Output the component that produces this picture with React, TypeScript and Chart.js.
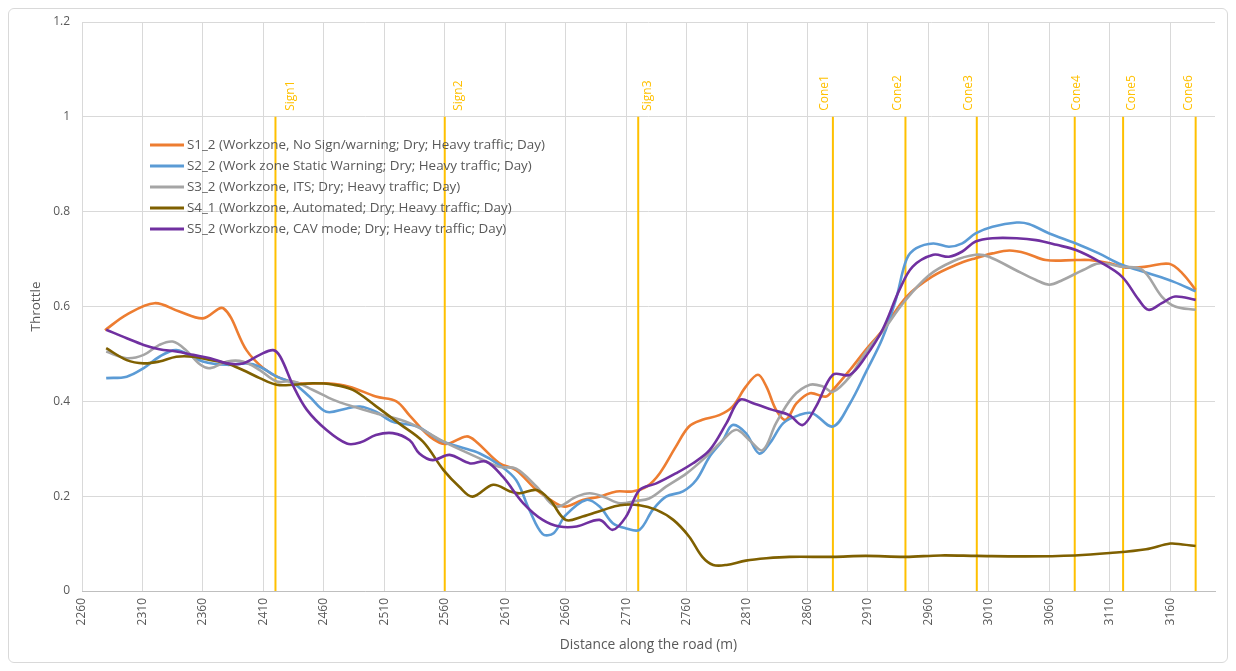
import React, { useEffect, useRef } from "react";
import { Chart, registerables } from "chart.js";

Chart.register(...registerables);

// ---------- data ----------
const distanceTicks = [2260, 2310, 2360, 2410, 2460, 2510, 2560, 2610, 2660, 2710, 2760, 2810, 2860, 2910, 2960, 3010, 3060, 3110, 3160];

const seriesNames = [
  "S1_2 (Workzone, No Sign/warning; Dry; Heavy traffic; Day)",
  "S2_2 (Work zone Static Warning; Dry; Heavy traffic; Day)",
  "S3_2 (Workzone, ITS; Dry; Heavy traffic; Day)",
  "S4_1 (Workzone, Automated; Dry; Heavy traffic; Day)",
  "S5_2 (Workzone, CAV mode; Dry; Heavy traffic; Day)",
];

const s1Dist = [2279, 2297, 2320, 2340, 2360, 2377, 2396, 2410, 2424, 2440, 2462, 2481, 2503, 2520, 2531, 2548, 2561, 2578, 2586, 2605, 2619, 2636, 2652, 2660, 2674, 2688, 2702, 2715, 2727, 2738, 2751, 2762, 2773, 2787, 2798, 2809, 2819, 2826, 2834, 2842, 2851, 2862, 2875, 2881, 2895, 2908, 2922, 2942, 2963, 2983, 2999, 3013, 3027, 3041, 3057, 3082, 3093, 3110, 3123, 3140, 3159, 3170, 3181];
const s1Throttle = [0.55, 0.583, 0.607, 0.59, 0.575, 0.596, 0.508, 0.47, 0.449, 0.438, 0.438, 0.431, 0.41, 0.40, 0.37, 0.325, 0.31, 0.326, 0.315, 0.27, 0.255, 0.213, 0.185, 0.178, 0.192, 0.199, 0.21, 0.21, 0.22, 0.249, 0.304, 0.347, 0.361, 0.371, 0.389, 0.431, 0.456, 0.431, 0.382, 0.361, 0.396, 0.417, 0.41, 0.424, 0.466, 0.508, 0.55, 0.621, 0.663, 0.688, 0.702, 0.712, 0.718, 0.712, 0.698, 0.698, 0.698, 0.691, 0.682, 0.684, 0.69, 0.67, 0.635];

const s2Dist = [2280, 2297, 2311, 2324, 2338, 2360, 2380, 2396, 2407, 2421, 2435, 2448, 2462, 2479, 2490, 2503, 2517, 2537, 2556, 2572, 2589, 2605, 2619, 2630, 2641, 2650, 2660, 2677, 2688, 2699, 2710, 2721, 2732, 2743, 2757, 2768, 2779, 2790, 2798, 2809, 2820, 2829, 2840, 2853, 2864, 2881, 2895, 2908, 2922, 2933, 2942, 2950, 2964, 2977, 2988, 2999, 3013, 3033, 3043, 3060, 3082, 3101, 3120, 3142, 3163, 3181];
const s2Throttle = [0.449, 0.452, 0.47, 0.494, 0.508, 0.484, 0.477, 0.48, 0.473, 0.452, 0.438, 0.41, 0.378, 0.385, 0.389, 0.378, 0.357, 0.347, 0.318, 0.304, 0.29, 0.266, 0.234, 0.171, 0.12, 0.122, 0.16, 0.192, 0.178, 0.143, 0.132, 0.129, 0.171, 0.199, 0.21, 0.234, 0.283, 0.318, 0.35, 0.333, 0.29, 0.312, 0.354, 0.371, 0.375, 0.347, 0.395, 0.46, 0.533, 0.614, 0.70, 0.723, 0.733, 0.726, 0.733, 0.754, 0.768, 0.777, 0.774, 0.754, 0.733, 0.712, 0.688, 0.67, 0.652, 0.632];

const s3Dist = [2280, 2297, 2311, 2324, 2335, 2346, 2358, 2366, 2380, 2393, 2407, 2421, 2435, 2451, 2468, 2484, 2503, 2531, 2559, 2586, 2605, 2619, 2636, 2652, 2669, 2680, 2691, 2705, 2718, 2729, 2743, 2760, 2776, 2790, 2801, 2812, 2823, 2834, 2848, 2862, 2873, 2881, 2895, 2908, 2922, 2940, 2960, 2980, 2999, 3010, 3032, 3049, 3060, 3071, 3088, 3101, 3120, 3137, 3153, 3164, 3181];
const s3Throttle = [0.505, 0.491, 0.498, 0.519, 0.526, 0.508, 0.477, 0.47, 0.484, 0.484, 0.466, 0.442, 0.442, 0.424, 0.403, 0.389, 0.375, 0.354, 0.315, 0.283, 0.262, 0.258, 0.22, 0.178, 0.199, 0.206, 0.199, 0.185, 0.19, 0.195, 0.22, 0.248, 0.283, 0.318, 0.34, 0.318, 0.297, 0.354, 0.41, 0.435, 0.431, 0.42, 0.452, 0.503, 0.547, 0.61, 0.665, 0.695, 0.709, 0.705, 0.677, 0.656, 0.646, 0.656, 0.677, 0.691, 0.684, 0.677, 0.621, 0.60, 0.593];

const s4Dist = [2280, 2297, 2311, 2324, 2338, 2352, 2366, 2380, 2393, 2407, 2421, 2435, 2451, 2468, 2484, 2503, 2523, 2542, 2559, 2572, 2583, 2600, 2614, 2622, 2636, 2647, 2660, 2674, 2691, 2705, 2721, 2735, 2749, 2762, 2773, 2782, 2793, 2809, 2826, 2845, 2881, 2908, 2941, 2970, 3000, 3040, 3081, 3110, 3140, 3160, 3170, 3181];
const s4Throttle = [0.512, 0.487, 0.48, 0.484, 0.494, 0.494, 0.487, 0.48, 0.466, 0.449, 0.435, 0.435, 0.438, 0.435, 0.424, 0.39, 0.352, 0.315, 0.255, 0.22, 0.199, 0.224, 0.21, 0.206, 0.213, 0.192, 0.15, 0.157, 0.171, 0.181, 0.181, 0.171, 0.15, 0.115, 0.072, 0.055, 0.055, 0.064, 0.069, 0.072, 0.072, 0.074, 0.072, 0.075, 0.074, 0.073, 0.075, 0.08, 0.088, 0.1, 0.098, 0.095];

const s5Dist = [2280, 2297, 2311, 2324, 2338, 2352, 2366, 2380, 2393, 2407, 2418, 2424, 2435, 2446, 2462, 2479, 2490, 2503, 2517, 2531, 2539, 2550, 2564, 2581, 2594, 2608, 2625, 2641, 2655, 2669, 2688, 2699, 2710, 2721, 2735, 2751, 2765, 2779, 2793, 2804, 2815, 2831, 2845, 2856, 2867, 2881, 2895, 2908, 2922, 2936, 2947, 2964, 2977, 2988, 2999, 3013, 3033, 3049, 3066, 3082, 3101, 3120, 3134, 3142, 3153, 3164, 3181];
const s5Throttle = [0.551, 0.533, 0.519, 0.51, 0.505, 0.498, 0.491, 0.48, 0.48, 0.498, 0.508, 0.494, 0.431, 0.382, 0.34, 0.311, 0.313, 0.329, 0.333, 0.318, 0.29, 0.276, 0.287, 0.269, 0.273, 0.241, 0.185, 0.15, 0.136, 0.136, 0.15, 0.129, 0.157, 0.213, 0.227, 0.248, 0.269, 0.297, 0.354, 0.403, 0.396, 0.382, 0.371, 0.35, 0.389, 0.456, 0.456, 0.494, 0.551, 0.635, 0.684, 0.709, 0.705, 0.716, 0.737, 0.744, 0.744, 0.74, 0.73, 0.719, 0.695, 0.663, 0.614, 0.593, 0.607, 0.621, 0.614];

const markerDist = [2420, 2560, 2720, 2881, 2941, 3000, 3081, 3121, 3181];
const markerNames = ["Sign1", "Sign2", "Sign3", "Cone1", "Cone2", "Cone3", "Cone4", "Cone5", "Cone6"];
const markerRange = [0, 1];

// ---------- styles ----------
const seriesColors = ["#ED7D31", "#5B9BD5", "#A5A5A5", "#7F6000", "#7030A0"];
const markerColor = "#FFC000";
const markerLabelOffsets = [15, 14, 9, -8, -8, -8, 2, 8, -7];
const textColor = "#595959";
const FONT = "'Open Sans', 'Liberation Sans', sans-serif";

const toPoints = (d: number[], v: number[]) => d.map((x, i) => ({ x, y: v[i] }));

const overlayPlugin = {
  id: "overlay",
  afterDatasetsDraw(chart: any) {
    const ctx = chart.ctx;
    const xs = chart.scales.x;
    const ys = chart.scales.y;
    const area = chart.chartArea;
    ctx.save();
    // marker labels
    ctx.font = `12px ${FONT}`;
    ctx.fillStyle = markerColor;
    markerDist.forEach((d, i) => {
      const px = xs.getPixelForValue(d) + markerLabelOffsets[i];
      const py = ys.getPixelForValue(markerRange[1]) - 6;
      ctx.save();
      ctx.translate(px, py);
      ctx.rotate(-Math.PI / 2);
      ctx.textAlign = "left";
      ctx.textBaseline = "middle";
      ctx.fillText(markerNames[i], 0, 0);
      ctx.restore();
    });
    // legend inside plot
    ctx.font = `13.4px ${FONT}`;
    ctx.textAlign = "left";
    ctx.textBaseline = "middle";
    seriesNames.forEach((name, i) => {
      const y = area.top + 123 + i * 21;
      const x0 = area.left + 68;
      ctx.strokeStyle = seriesColors[i];
      ctx.lineWidth = 3;
      ctx.beginPath();
      ctx.moveTo(x0, y);
      ctx.lineTo(x0 + 34, y);
      ctx.stroke();
      ctx.fillStyle = textColor;
      ctx.fillText(name, x0 + 37, y);
    });
    ctx.restore();
  },
};

export default function App() {
  const ref = useRef<HTMLCanvasElement | null>(null);

  useEffect(() => {
    if (!ref.current) return;
    const seriesD = [s1Dist, s2Dist, s3Dist, s4Dist, s5Dist];
    const seriesV = [s1Throttle, s2Throttle, s3Throttle, s4Throttle, s5Throttle];
    const lineSets = seriesNames.map((name, i) => ({
      label: name,
      data: toPoints(seriesD[i], seriesV[i]),
      borderColor: seriesColors[i],
      backgroundColor: seriesColors[i],
      borderWidth: 2.6,
      pointRadius: 0,
      tension: 0.35,
      fill: false,
      order: seriesNames.length - i,
    }));
    const markerSets = markerDist.map((d, i) => ({
      label: markerNames[i],
      data: markerRange.map((y) => ({ x: d, y })),
      borderColor: markerColor,
      backgroundColor: markerColor,
      borderWidth: 2,
      pointRadius: 0,
      tension: 0,
      fill: false,
      order: 10,
    }));

    const chart = new Chart(ref.current, {
      type: "line",
      data: { datasets: [...markerSets, ...lineSets] as any },
      options: {
        animation: false,
        responsive: false,
        devicePixelRatio: 1,
        parsing: false as any,
        layout: { padding: { left: 16, right: 12, top: 13, bottom: 0 } },
        plugins: {
          legend: { display: false },
          tooltip: { enabled: false },
        },
        scales: {
          x: {
            type: "linear",
            min: 2260,
            max: 3197,
            afterBuildTicks: (scale: any) => {
              scale.ticks = distanceTicks.map((v) => ({ value: v }));
            },
            afterFit: (scale: any) => {
              scale.height = 71;
            },
            ticks: {
              autoSkip: false,
              maxRotation: 90,
              minRotation: 90,
              padding: 7,
              color: textColor,
              font: { size: 12, family: FONT },
              callback: (v: any) => String(v),
            },
            grid: { color: "#d9d9d9", lineWidth: 1, drawTicks: false },
            border: { display: true, color: "#bfbfbf" },
            title: {
              display: true,
              text: "Distance along the road (m)",
              color: textColor,
              font: { size: 13.8, family: FONT },
              padding: { top: 0, bottom: 9 },
            },
          },
          y: {
            type: "linear",
            min: 0,
            max: 1.2,
            afterFit: (scale: any) => {
              scale.width = 57;
              scale.paddingTop = 0;
              scale.paddingBottom = 0;
            },
            ticks: {
              stepSize: 0.2,
              padding: 12,
              color: textColor,
              font: { size: 12, family: FONT },
              callback: (v: any) => String(Math.round(Number(v) * 10) / 10),
            },
            grid: { color: "#d9d9d9", lineWidth: 1, drawTicks: false },
            border: { display: false },
            title: {
              display: true,
              text: "Throttle",
              color: textColor,
              font: { size: 13.5, family: FONT },
              padding: { top: 3, bottom: 4 },
            },
          },
        },
      },
      plugins: [overlayPlugin],
    });
    return () => chart.destroy();
  }, []);

  return (
    <div
      style={{
        position: "relative",
        width: 1220,
        height: 655,
        boxSizing: "border-box",
        border: "1px solid #d9d9d9",
        borderRadius: 6,
        background: "#fff",
      }}
    >
      <canvas ref={ref} width={1218} height={653} style={{ display: "block", width: 1218, height: 653 }} />
    </div>
  );
}
